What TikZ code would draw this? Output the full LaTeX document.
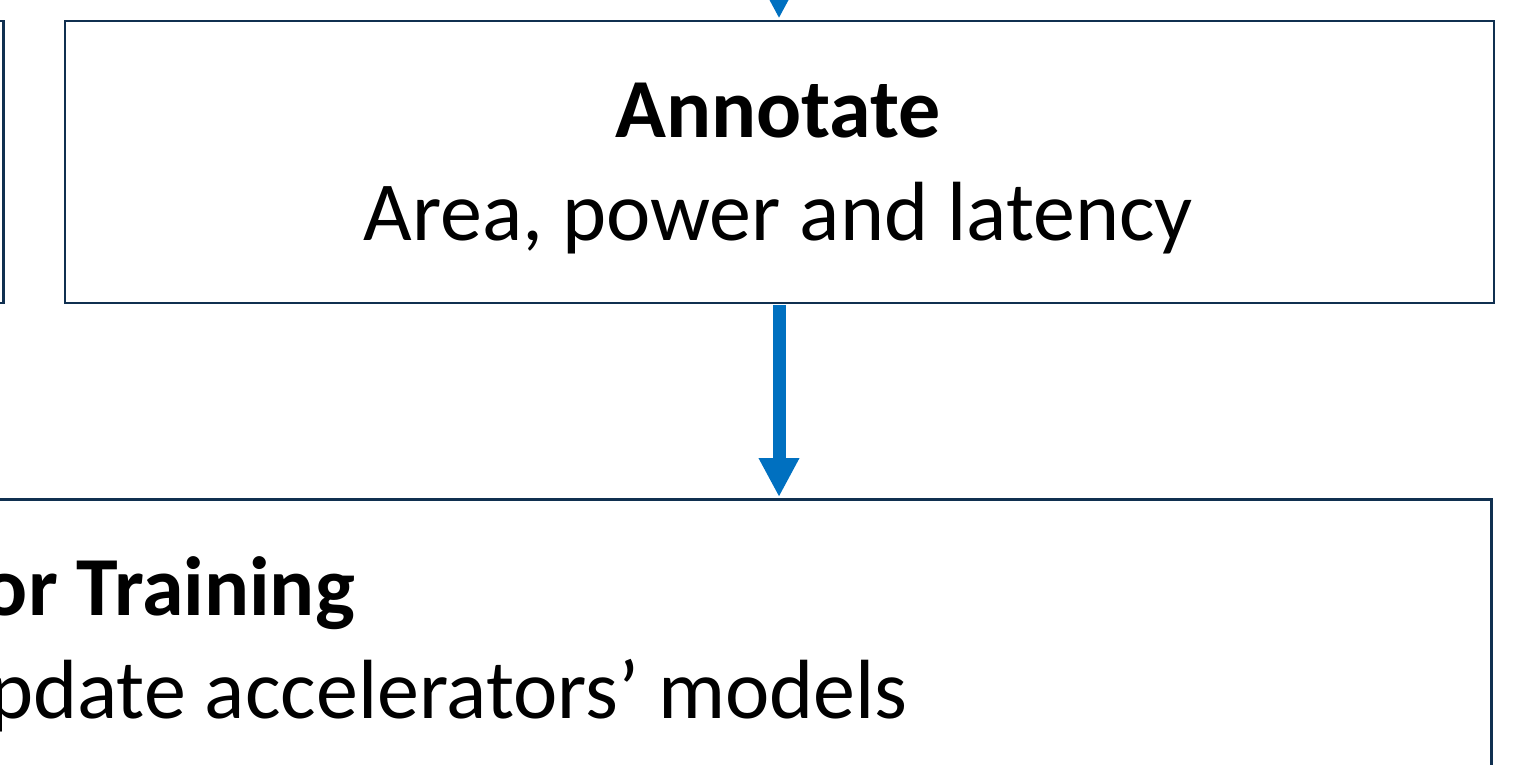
\documentclass[tikz,border=0pt]{standalone}
\usepackage{fontspec}
\setmainfont{Carlito}
\usetikzlibrary{arrows.meta,positioning}
\definecolor{boxline}{RGB}{16,48,80}
\definecolor{flowblue}{RGB}{0,112,192}
\tikzset{
  stagebox/.style={draw=boxline, line width=2.6pt, fill=white, inner sep=0pt},
  flow/.style={draw=flowblue, line width=13pt,
    -{Triangle[width=38pt,length=39pt]}},
  headline/.style={font=\fontsize{84}{103}\selectfont\bfseries, inner sep=0pt},
  bodyline/.style={font=\fontsize{84}{103}\selectfont, inner sep=0pt},
}
\begin{document}
\begin{tikzpicture}[x=1pt,y=-1pt]
  \useasboundingbox (0,0) rectangle (1530,764);
  % stage boxes
  \node[stagebox, minimum width=400pt, minimum height=282pt, anchor=north east] (prev) at (4.5,19.5) {};
  \node[stagebox, minimum width=1429pt, minimum height=282pt, anchor=north west] (annot) at (63.5,19.5) {};
  \node[stagebox, minimum width=1600pt, minimum height=400pt, anchor=north east] (train) at (1492.5,498) {};
  % texts
  \node[headline, anchor=base] (annotT) at (778,137) {Annotate};
  \node[bodyline, anchor=base] (annotB) at (778,240) {Area, power and latency};
  \node[headline, anchor=base east] (trainT) at (355,615) {Predictor Training};
  \node[bodyline, anchor=base east] (trainB) at (908,718) {Update accelerators’ models};
  % connectors
  \coordinate (feed) at (779,-60);
  \draw[flow] (feed) -- (779,18.5);
  \draw[flow] (779,305) -- (779,497);
\end{tikzpicture}
\end{document}
